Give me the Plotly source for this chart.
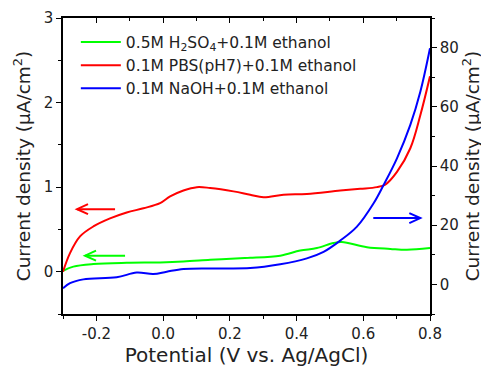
import plotly.graph_objects as go

# Data
x_h2so4 = [-0.300, -0.269, -0.209, -0.109, -0.009, 0.061, 0.141, 0.231, 0.261, 0.351, 0.411, 0.461, 0.511, 0.536, 0.611, 0.681, 0.731, 0.800]
y_h2so4 = [0.01, 0.06, 0.09, 0.105, 0.11, 0.12, 0.14, 0.16, 0.165, 0.19, 0.25, 0.28, 0.34, 0.35, 0.29, 0.27, 0.26, 0.28]

x_pbs = [-0.300, -0.279, -0.249, -0.209, -0.159, -0.109, -0.059, -0.009, 0.021, 0.061, 0.101, 0.141, 0.211, 0.261, 0.301, 0.361, 0.431, 0.531, 0.591, 0.641, 0.666, 0.701, 0.741, 0.771, 0.800]
y_pbs = [0.0, 0.22, 0.417, 0.535, 0.63, 0.70, 0.75, 0.81, 0.89, 0.96, 1.0, 0.99, 0.95, 0.91, 0.88, 0.91, 0.92, 0.96, 0.98, 1.0, 1.03, 1.18, 1.46, 1.85, 2.31]

x_naoh = [-0.300, -0.279, -0.239, -0.139, -0.079, -0.029, 0.011, 0.061, 0.141, 0.261, 0.351, 0.431, 0.481, 0.531, 0.581, 0.631, 0.661, 0.701, 0.741, 0.771, 0.800]
y_naoh = [-1.3, 0.4, 1.7, 2.4, 4.0, 3.5, 4.3, 5.2, 5.4, 5.5, 6.8, 8.8, 11.0, 14.8, 19.5, 27.4, 33.6, 42.6, 53.9, 65.1, 79.8]

names = ["0.5M H<sub>2</sub>SO<sub>4</sub>+0.1M ethanol",
         "0.1M PBS(pH7)+0.1M ethanol",
         "0.1M NaOH+0.1M ethanol"]
colors = ["#00ff00", "#ff0000", "#0000ff"]

x_ticks = [-0.2, 0.0, 0.2, 0.4, 0.6, 0.8]
x_ticklabels = ["-0.2", "0.0", "0.2", "0.4", "0.6", "0.8"]
yl_ticks = [0, 1, 2, 3]
yr_ticks = [0, 20, 40, 60, 80]

FONT = "DejaVu Sans, Liberation Sans, Arial, sans-serif"
TXT = "#222222"

fig = go.Figure()
fig.add_trace(go.Scatter(x=x_h2so4, y=y_h2so4, name=names[0], mode="lines",
                         line=dict(color=colors[0], width=2, shape="spline"), yaxis="y"))
fig.add_trace(go.Scatter(x=x_pbs, y=y_pbs, name=names[1], mode="lines",
                         line=dict(color=colors[1], width=2, shape="spline"), yaxis="y"))
fig.add_trace(go.Scatter(x=x_naoh, y=y_naoh, name=names[2], mode="lines",
                         line=dict(color=colors[2], width=2, shape="spline"), yaxis="y2"))
# dummy trace to activate top axis
fig.add_trace(go.Scatter(x=[None], y=[None], xaxis="x2", yaxis="y", showlegend=False, hoverinfo="skip"))

# Arrows
arrows = [
    dict(x0=-0.144, x1=-0.258, y=0.74, yref="y", color=colors[1], dirn=1),
    dict(x0=-0.114, x1=-0.234, y=0.19, yref="y", color=colors[0], dirn=1),
    dict(x0=0.630, x1=0.771, y=22.4, yref="y2", color=colors[2], dirn=-1),
]
shapes = []
for a in arrows:
    shapes.append(dict(type="line", xref="x", yref=a["yref"], x0=a["x0"], x1=a["x1"],
                       y0=a["y"], y1=a["y"], line=dict(color=a["color"], width=2)))
    d = a["dirn"]
    shapes.append(dict(type="path", xref="x", yref=a["yref"], xsizemode="pixel", ysizemode="pixel",
                       xanchor=a["x1"], yanchor=a["y"],
                       path=f"M {11*d},5 L 0,0 L {11*d},-5",
                       line=dict(color=a["color"], width=2)))

fig.update_layout(
    width=481, height=359,
    margin=dict(l=55, r=59, t=10, b=53, autoexpand=False),
    paper_bgcolor="white", plot_bgcolor="white",
    font=dict(family=FONT, size=15, color=TXT),
    shapes=shapes,
    showlegend=True,
    legend=dict(x=0.035, y=0.975, xanchor="left", yanchor="top", bgcolor="rgba(0,0,0,0)",
                font=dict(size=15.5, color=TXT), tracegroupgap=0, itemwidth=40),
    xaxis=dict(range=[-0.3, 0.8], tickvals=x_ticks, ticktext=x_ticklabels, automargin=False,
               ticks="outside", ticklen=5, tickwidth=1, tickcolor="black",
               minor=dict(dtick=0.1, tick0=0, ticks="outside", ticklen=3, tickcolor="black"),
               showline=True, linecolor="black", linewidth=1.5, showgrid=False, zeroline=False,
               title=dict(text="Potential (V vs. Ag/AgCl)", font=dict(size=20, color=TXT), standoff=8),
               tickfont=dict(size=15, color=TXT)),
    xaxis2=dict(range=[-0.3, 0.8], overlaying="x", side="top", tickvals=x_ticks, automargin=False,
                showticklabels=False, ticks="inside", ticklen=5, tickcolor="black",
                minor=dict(dtick=0.1, tick0=0, ticks="inside", ticklen=3, tickcolor="black"),
                showline=True, linecolor="black", linewidth=1.5, showgrid=False, zeroline=False),
    yaxis=dict(range=[-0.5, 3], tickvals=yl_ticks, ticks="outside", ticklen=5, tickcolor="black",
               automargin=False,
               minor=dict(dtick=0.5, tick0=0, ticks="outside", ticklen=3, tickcolor="black"),
               showline=True, linecolor="black", linewidth=1.5, showgrid=False, zeroline=False,
               title=dict(text="Current density (μA/cm<sup>2</sup>)", font=dict(size=18.5, color=TXT), standoff=8),
               tickfont=dict(size=15, color=TXT)),
    yaxis2=dict(range=[-10, 90], overlaying="y", side="right", tickvals=yr_ticks,
                automargin=False,
                ticks="outside", ticklen=5, tickcolor="black",
                minor=dict(dtick=10, tick0=0, ticks="outside", ticklen=3, tickcolor="black"),
                showline=True, linecolor="black", linewidth=1.5, showgrid=False, zeroline=False,
                title=dict(text="Current density (μA/cm<sup>2</sup>)", font=dict(size=18.5, color=TXT), standoff=8),
                tickfont=dict(size=15, color=TXT)),
)

fig.write_html("out.html")
